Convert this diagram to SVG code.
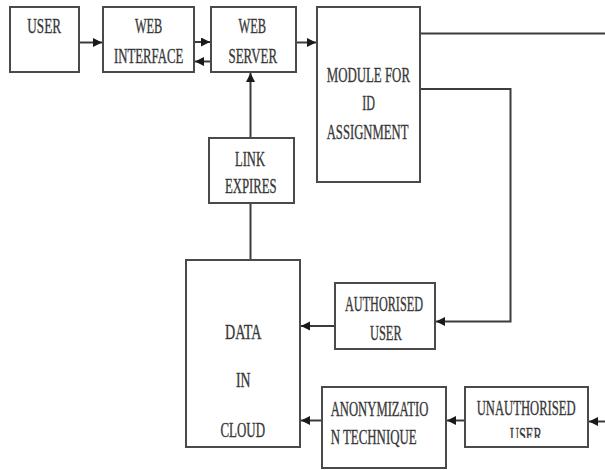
<svg xmlns="http://www.w3.org/2000/svg" width="605" height="470" viewBox="0 0 605 470">
  <style>
    .box { fill: #ffffff; stroke: #4a4a4a; stroke-width: 2; }
    .lbl { font-family: "Liberation Serif", "Times New Roman", serif; font-size: 21px; fill: #383838; stroke: #383838; stroke-width: 0.35; }
    .wire { fill: none; stroke: #3c3c3c; stroke-width: 2; }
  </style>
  <defs>
    <marker id="head" markerUnits="userSpaceOnUse" markerWidth="10" markerHeight="10" refX="9" refY="4.5" orient="auto">
      <path d="M0,0 L9,4.5 L0,9 z" fill="#1a1a1a"/>
    </marker>
    <clipPath id="unauthClip">
      <rect x="466" y="388" width="121" height="50"/>
    </clipPath>
  </defs>
  <rect width="605" height="470" fill="#ffffff"/>

  <!-- connectors -->
  <g id="connectors">
    <line class="wire" x1="79" y1="42.5" x2="102" y2="42.5" marker-end="url(#head)"/>
    <line class="wire" x1="194" y1="42" x2="210" y2="42" marker-end="url(#head)"/>
    <line class="wire" x1="211" y1="61.5" x2="195" y2="61.5" marker-end="url(#head)"/>
    <line class="wire" x1="296" y1="42.5" x2="316" y2="42.5" marker-end="url(#head)"/>
    <line class="wire" x1="250.5" y1="138" x2="250.5" y2="73" marker-end="url(#head)"/>
    <line class="wire" x1="250.5" y1="260" x2="250.5" y2="203"/>
    <line class="wire" x1="420" y1="33.5" x2="605" y2="33.5"/>
    <polyline class="wire" points="420,89 510.5,89 510.5,321.5 436,321.5" marker-end="url(#head)"/>
    <line class="wire" x1="335" y1="326" x2="301" y2="326" marker-end="url(#head)"/>
    <line class="wire" x1="322" y1="420.5" x2="301" y2="420.5" marker-end="url(#head)"/>
    <line class="wire" x1="465" y1="420.5" x2="447" y2="420.5" marker-end="url(#head)"/>
    <line class="wire" x1="605" y1="421.5" x2="589" y2="421.5" marker-end="url(#head)"/>
  </g>

  <g id="user">
    <rect class="box" x="10" y="7" width="69" height="65"/>
    <text class="lbl" x="27.3" y="33" textLength="33.7" lengthAdjust="spacingAndGlyphs">USER</text>
  </g>

  <g id="web-interface">
    <rect class="box" x="103" y="7" width="91" height="65"/>
    <text class="lbl" x="135" y="33" textLength="27.3" lengthAdjust="spacingAndGlyphs">WEB</text>
    <text class="lbl" x="114" y="63" textLength="69.3" lengthAdjust="spacingAndGlyphs">INTERFACE</text>
  </g>

  <g id="web-server">
    <rect class="box" x="211" y="7" width="85" height="65"/>
    <text class="lbl" x="238.5" y="33" textLength="27.5" lengthAdjust="spacingAndGlyphs">WEB</text>
    <text class="lbl" x="228.5" y="63" textLength="48.5" lengthAdjust="spacingAndGlyphs">SERVER</text>
  </g>

  <g id="module-id-assignment">
    <rect class="box" x="317" y="7" width="103" height="175"/>
    <text class="lbl" x="326.7" y="82" textLength="83.3" lengthAdjust="spacingAndGlyphs">MODULE FOR</text>
    <text class="lbl" x="362.3" y="110" textLength="12.7" lengthAdjust="spacingAndGlyphs">ID</text>
    <text class="lbl" x="326.7" y="139" textLength="81.7" lengthAdjust="spacingAndGlyphs">ASSIGNMENT</text>
  </g>

  <g id="link-expires">
    <rect class="box" x="209" y="138" width="85" height="65"/>
    <text class="lbl" x="235" y="166" textLength="30" lengthAdjust="spacingAndGlyphs">LINK</text>
    <text class="lbl" x="225" y="193" textLength="51.7" lengthAdjust="spacingAndGlyphs">EXPIRES</text>
  </g>

  <g id="data-in-cloud">
    <rect class="box" x="186" y="260" width="114" height="187"/>
    <text class="lbl" x="225" y="339" textLength="36.5" lengthAdjust="spacingAndGlyphs">DATA</text>
    <text class="lbl" x="236" y="387" textLength="14.5" lengthAdjust="spacingAndGlyphs">IN</text>
    <text class="lbl" x="220.5" y="437" textLength="44.5" lengthAdjust="spacingAndGlyphs">CLOUD</text>
  </g>

  <g id="authorised-user">
    <rect class="box" x="335" y="283" width="100" height="66"/>
    <text class="lbl" x="345" y="311" textLength="78" lengthAdjust="spacingAndGlyphs">AUTHORISED</text>
    <text class="lbl" x="370" y="340" textLength="31.7" lengthAdjust="spacingAndGlyphs">USER</text>
  </g>

  <g id="anonymization-technique">
    <rect class="box" x="322" y="387" width="124" height="81"/>
    <text class="lbl" x="330.7" y="416" textLength="97.7" lengthAdjust="spacingAndGlyphs">ANONYMIZATIO</text>
    <text class="lbl" x="330.7" y="444" textLength="86" lengthAdjust="spacingAndGlyphs">N TECHNIQUE</text>
  </g>

  <g id="unauthorised-user">
    <rect class="box" x="465" y="387" width="123" height="60"/>
    <text class="lbl" x="476.7" y="415" textLength="99" lengthAdjust="spacingAndGlyphs">UNAUTHORISED</text>
    <text class="lbl" x="510" y="442" textLength="31.7" lengthAdjust="spacingAndGlyphs" clip-path="url(#unauthClip)">USER</text>
  </g>
</svg>
